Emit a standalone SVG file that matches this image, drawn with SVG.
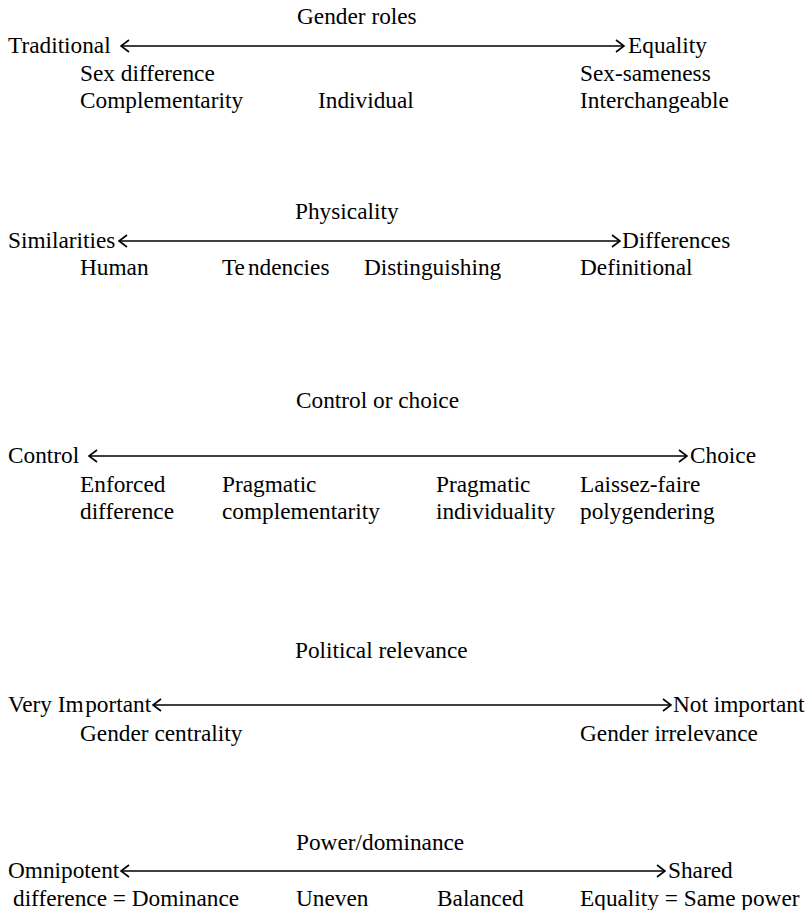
<svg xmlns="http://www.w3.org/2000/svg" width="811" height="910" viewBox="0 0 811 910">
<style>
text{font-family:"Liberation Serif","Times New Roman",serif;font-size:23.3px;fill:#000}
.ax{stroke:#000;stroke-width:1.6;fill:none;marker-start:url(#ah);marker-end:url(#ah)}
</style>
<defs>
<marker id="ah" viewBox="0 0 10 14" markerWidth="10" markerHeight="14" refX="9" refY="7" orient="auto-start-reverse" markerUnits="userSpaceOnUse">
<path d="M1,1 L9,7 L1,13" fill="none" stroke="#000" stroke-width="1.6"/>
</marker>
</defs>
<rect width="811" height="910" fill="#fff"/>
<g id="connectors">
<line class="ax" x1="121" y1="46" x2="624" y2="46"/>
<line class="ax" x1="119" y1="241" x2="620" y2="241"/>
<line class="ax" x1="89" y1="456" x2="687" y2="456"/>
<line class="ax" x1="153" y1="705" x2="671" y2="705"/>
<line class="ax" x1="121" y1="871" x2="665" y2="871"/>
</g>
<g id="gender-roles">
<text x="297" y="24">Gender roles</text>
<text x="8" y="53">Traditional</text>
<text x="628" y="53">Equality</text>
<text x="80" y="81">Sex difference</text>
<text x="580" y="81">Sex-sameness</text>
<text x="80" y="108">Complementarity</text>
<text x="318" y="108">Individual</text>
<text x="580" y="108">Interchangeable</text>
</g>
<g id="physicality">
<text x="295" y="219">Physicality</text>
<text x="8" y="248">Similarities</text>
<text x="622" y="248">Differences</text>
<text x="80" y="275">Human</text>
<text x="222" y="275">Te<tspan dx="3">ndencies</tspan></text>
<text x="364" y="275">Distinguishing</text>
<text x="580" y="275">Definitional</text>
</g>
<g id="control-choice">
<text x="296" y="408">Control or choice</text>
<text x="8" y="463">Control</text>
<text x="690" y="463">Choice</text>
<text x="80" y="492">Enforced</text>
<text x="80" y="519">difference</text>
<text x="222" y="492">Pragmatic</text>
<text x="222" y="519">complementarity</text>
<text x="436" y="492">Pragmatic</text>
<text x="436" y="519">individuality</text>
<text x="580" y="492">Laissez-faire</text>
<text x="580" y="519">polygendering</text>
</g>
<g id="political-relevance">
<text x="295" y="658">Political relevance</text>
<text x="8" y="712">Very Im<tspan dx="1.5">portant</tspan></text>
<text x="673" y="712">Not important</text>
<text x="80" y="741">Gender centrality</text>
<text x="580" y="741">Gender irrelevance</text>
</g>
<g id="power-dominance">
<text x="296" y="850">Power/dominance</text>
<text x="8" y="878">Omnipotent</text>
<text x="668" y="878">Shared</text>
<text x="13" y="906">difference = Dominance</text>
<text x="296" y="906">Uneven</text>
<text x="437" y="906">Balanced</text>
<text x="580" y="906">Equality = Same power</text>
</g>
</svg>
